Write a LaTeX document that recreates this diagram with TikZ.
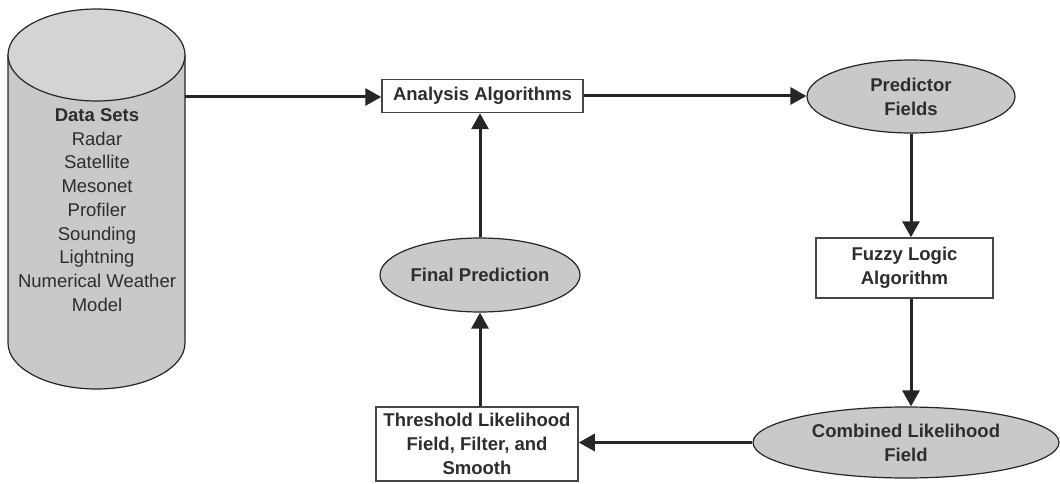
\documentclass[tikz,border=0pt]{standalone}
\usepackage{fontspec}
\setmainfont{Liberation Sans}
\usepackage{tikz}
\usetikzlibrary{shapes.geometric, arrows.meta, positioning, calc}
\definecolor{inkgray}{RGB}{38,38,38}
\definecolor{textgray}{RGB}{45,45,45}
\definecolor{edgegray}{RGB}{70,70,70}
\definecolor{fillgray}{RGB}{201,201,201}
\definecolor{topgray}{RGB}{212,212,212}
\tikzset{
  procbox/.style={rectangle, draw=edgegray, line width=1.5pt, fill=white,
    inner sep=0pt, align=center, text=textgray,
    font=\fontsize{18.5}{24}\selectfont\bfseries},
  fieldnode/.style={ellipse, draw=inkgray, line width=1.2pt, fill=fillgray,
    inner sep=0pt, align=center, text=textgray,
    font=\fontsize{18.5}{24}\selectfont\bfseries},
  flow/.style={-{Triangle[length=16pt, width=17pt]}, line width=3pt,
    color=inkgray},
}
\begin{document}
\begin{tikzpicture}[x=1pt, y=-1pt]
  \useasboundingbox (0,0) rectangle (1060,484);

  % data store
  \fill[fillgray] (8,55) -- (8,343) arc[start angle=180, end angle=0,
    x radius=88.5, y radius=46] -- (185,55) -- cycle;
  \draw[inkgray, line width=1.2pt] (8,55) -- (8,343) arc[start angle=180,
    end angle=0, x radius=88.5, y radius=46] -- (185,55);
  \draw[inkgray, line width=1.2pt, fill=topgray] (96.5,55)
    ellipse[x radius=88.5, y radius=46];
  \node[align=center, text=textgray, font=\fontsize{18.5}{23.75}\selectfont]
    (datasets) at (97,210) {\textbf{Data Sets}\\Radar\\Satellite\\Mesonet\\
    Profiler\\Sounding\\Lightning\\Numerical Weather\\Model};
  \coordinate (storeout) at (185,97);

  \node[procbox, minimum width=201pt, minimum height=33pt]
    (analysis) at (482.5,96) {Analysis Algorithms};
  \node[fieldnode, minimum width=208pt, minimum height=73pt]
    (predictor) at (911,96.5) {Predictor\\Fields};
  \node[procbox, minimum width=177pt, minimum height=60pt]
    (fuzzy) at (904.5,268) {Fuzzy Logic\\Algorithm};
  \node[fieldnode, minimum width=306pt, minimum height=71pt]
    (combined) at (906,442.5) {Combined Likelihood\\Field};
  \node[procbox, minimum width=202pt, minimum height=74pt]
    (threshold) at (477,444) {Threshold Likelihood\\Field, Filter, and\\Smooth};
  \node[fieldnode, minimum width=200pt, minimum height=74pt]
    (final) at (480,275) {Final Prediction};

  \draw[flow] (storeout) -- (storeout -| analysis.west);
  \draw[flow] (analysis.east) -- (analysis.east -| predictor.west);
  \draw[flow] (predictor.south) -- (predictor.south |- fuzzy.north);
  \draw[flow] (predictor.south |- fuzzy.south) -- (predictor.south |- combined.north);
  \draw[flow] (combined.west) -- (combined.west -| threshold.east);
  \draw[flow] (final.south |- threshold.north) -- (final.south);
  \draw[flow] (final.north) -- (final.north |- analysis.south);
\end{tikzpicture}
\end{document}
